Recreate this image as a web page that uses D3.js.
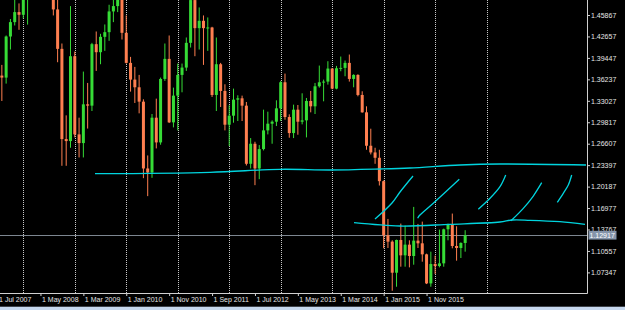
<!DOCTYPE html>
<html>
<head>
<meta charset="utf-8">
<script src="https://cdn.jsdelivr.net/npm/d3@7/dist/d3.min.js"></script>
<style>
  html, body { margin: 0; padding: 0; background: #000; }
  svg { display: block; }
</style>
</head>
<body>
<svg width="625" height="310"></svg>
<script>
// EURUSD monthly bars, first bar = Jul 2007, last = Aug 2016
var opens = [1.3540, 1.3680, 1.3650, 1.4265, 1.4480, 1.4630,
  1.4590, 1.4860, 1.5180, 1.5790, 1.5600, 1.5550, 1.5760, 1.5600, 1.4670, 1.4080, 1.2730, 1.2700,
  1.3970, 1.2800, 1.2670, 1.3250, 1.3230, 1.4150, 1.4030, 1.4260, 1.4330, 1.4640, 1.4720, 1.5000,
  1.4320, 1.3870, 1.3620, 1.3505, 1.3290, 1.2290, 1.2230, 1.3050, 1.2680, 1.3630, 1.3930, 1.2980,
  1.3380, 1.3690, 1.3800, 1.4170, 1.4810, 1.4390, 1.4500, 1.4390, 1.4400, 1.3390, 1.3850, 1.3450,
  1.2945, 1.3080, 1.3320, 1.3340, 1.3230, 1.2360, 1.2660, 1.2290, 1.2580, 1.2860, 1.2960, 1.2990,
  1.3190, 1.3580, 1.3060, 1.2820, 1.3170, 1.2990, 1.3010, 1.3300, 1.3220, 1.3520, 1.3580, 1.3590,
  1.3785, 1.3485, 1.3790, 1.3795, 1.3870, 1.3630, 1.3690, 1.3390, 1.3130, 1.2630, 1.2530, 1.2450,
  1.2100, 1.1290, 1.1195, 1.0730, 1.1220, 1.0990, 1.1150, 1.0980, 1.1210, 1.1170, 1.1005, 1.0570,
  1.0860, 1.0830, 1.0870, 1.1380, 1.1450, 1.1130, 1.1100, 1.1175];
var highs = [1.3852, 1.3840, 1.4280, 1.4527, 1.4967, 1.4760,
  1.4875, 1.5236, 1.5905, 1.6018, 1.5815, 1.5845, 1.6038, 1.5630, 1.4865, 1.4160, 1.3085, 1.4720,
  1.4040, 1.3050, 1.3740, 1.3570, 1.4170, 1.4340, 1.4305, 1.4445, 1.4740, 1.5060, 1.5145, 1.5145,
  1.4580, 1.3960, 1.3810, 1.3690, 1.3325, 1.2485, 1.3105, 1.3335, 1.3650, 1.4160, 1.4280, 1.3500,
  1.3860, 1.3860, 1.4250, 1.4880, 1.4940, 1.4700, 1.4580, 1.4550, 1.4410, 1.4250, 1.3870, 1.3550,
  1.3235, 1.3485, 1.3385, 1.3380, 1.3285, 1.2745, 1.2690, 1.2640, 1.3170, 1.3140, 1.3010, 1.3310,
  1.3600, 1.3710, 1.3100, 1.3245, 1.3240, 1.3415, 1.3345, 1.3450, 1.3570, 1.3830, 1.3620, 1.3895,
  1.3790, 1.3825, 1.3965, 1.3905, 1.3995, 1.3700, 1.3700, 1.3445, 1.3220, 1.2885, 1.2600, 1.2570,
  1.2110, 1.1535, 1.1215, 1.1225, 1.1465, 1.1435, 1.1215, 1.1715, 1.1460, 1.1495, 1.1015, 1.1045,
  1.0985, 1.1375, 1.1390, 1.1465, 1.1615, 1.1425, 1.1185, 1.1366];
var lows = [1.3540, 1.3300, 1.3560, 1.4070, 1.4430, 1.4365,
  1.4535, 1.4443, 1.5130, 1.5470, 1.5285, 1.5305, 1.5550, 1.4580, 1.3880, 1.2330, 1.2330, 1.2600,
  1.2755, 1.2455, 1.2455, 1.2887, 1.3150, 1.3750, 1.3850, 1.4050, 1.4200, 1.4480, 1.4630, 1.4220,
  1.3860, 1.3440, 1.3270, 1.3115, 1.2145, 1.1876, 1.2150, 1.2590, 1.2645, 1.3600, 1.2970, 1.2905,
  1.2860, 1.3430, 1.3750, 1.4100, 1.3970, 1.4070, 1.3840, 1.4050, 1.3360, 1.3150, 1.3210, 1.2860,
  1.2625, 1.2975, 1.3000, 1.3000, 1.2335, 1.2290, 1.2040, 1.2130, 1.2560, 1.2800, 1.2660, 1.2925,
  1.3000, 1.3020, 1.2750, 1.2745, 1.2795, 1.2950, 1.2755, 1.3130, 1.3105, 1.3500, 1.3295, 1.3545,
  1.3475, 1.3475, 1.3745, 1.3670, 1.3590, 1.3505, 1.3370, 1.3125, 1.2570, 1.2500, 1.2360, 1.2035,
  1.1095, 1.1100, 1.0460, 1.0520, 1.0820, 1.0820, 1.0810, 1.0850, 1.1100, 1.0895, 1.0560, 1.0520,
  1.0710, 1.0810, 1.0820, 1.1215, 1.1095, 1.0910, 1.0950, 1.1045];
var closes = [1.3680, 1.3650, 1.4265, 1.4480, 1.4630, 1.4590,
  1.4860, 1.5180, 1.5790, 1.5600, 1.5550, 1.5760, 1.5600, 1.4670, 1.4080, 1.2730, 1.2700, 1.3970,
  1.2800, 1.2670, 1.3250, 1.3230, 1.4150, 1.4030, 1.4260, 1.4330, 1.4640, 1.4720, 1.5000, 1.4320,
  1.3870, 1.3620, 1.3505, 1.3290, 1.2290, 1.2230, 1.3050, 1.2680, 1.3630, 1.3930, 1.2980, 1.3380,
  1.3690, 1.3800, 1.4170, 1.4810, 1.4390, 1.4500, 1.4390, 1.4400, 1.3390, 1.3850, 1.3450, 1.2945,
  1.3080, 1.3320, 1.3340, 1.3230, 1.2360, 1.2660, 1.2290, 1.2580, 1.2860, 1.2960, 1.2990, 1.3190,
  1.3580, 1.3060, 1.2820, 1.3170, 1.2990, 1.3010, 1.3300, 1.3220, 1.3520, 1.3580, 1.3590, 1.3785,
  1.3485, 1.3790, 1.3795, 1.3870, 1.3630, 1.3690, 1.3390, 1.3130, 1.2630, 1.2530, 1.2450, 1.2100,
  1.1290, 1.1195, 1.0730, 1.1220, 1.0990, 1.1150, 1.0980, 1.1210, 1.1170, 1.1005, 1.0570, 1.0860,
  1.0830, 1.0870, 1.1380, 1.1450, 1.1130, 1.1100, 1.1175, 1.1292];

// axis labels (bar index for the dates)
var priceTicks = ['1.45867', '1.42657', '1.39447', '1.36237', '1.33027', '1.29817', '1.26607',
  '1.23397', '1.20187', '1.16977', '1.13767', '1.10557', '1.07347'];
var dateTicks = [0, 10, 20, 30, 40, 50, 60, 70, 80, 90, 100];
var dateLabels = ['1 Jul 2007', '1 May 2008', '1 Mar 2009', '1 Jan 2010', '1 Nov 2010', '1 Sep 2011',
  '1 Jul 2012', '1 May 2013', '1 Mar 2014', '1 Jan 2015', '1 Nov 2015'];
var yearSeparators = [6, 18, 30, 42, 54, 66, 78, 90, 102, 114];
var lastPrice = 1.12917;

// hand drawn lines, [bar index, price]
var longLine = [[22.71, 1.22116], [49.52, 1.22326], [65.84, 1.22775], [77.49, 1.22670], [89.15, 1.22820],
  [96.14, 1.22970], [107.80, 1.23419], [117.12, 1.23569], [137.17, 1.23419]];
var lowLine = [[83.09, 1.14784], [93.81, 1.14290], [105.46, 1.14544], [117.12, 1.14888],
  [119.92, 1.15188], [124.11, 1.15143], [131.10, 1.14934], [136.93, 1.14545]];
var strokes = [
  [[87.98, 1.15337], [91.94, 1.17732], [93.81, 1.19378], [96.84, 1.21772]],
  [[97.93, 1.15442], [98.24, 1.15786], [101.57, 1.17687], [107.63, 1.21278]],
  [[112.06, 1.16789], [114.79, 1.18435], [117.12, 1.20171], [118.45, 1.21922]],
  [[119.68, 1.15083], [122.55, 1.16938], [124.88, 1.18779], [126.84, 1.20770]],
  [[130.48, 1.17836], [131.87, 1.19183], [133.04, 1.20426], [133.83, 1.21922]]
];

var W = 625, H = 310;
var plotR = 587, plotB = 293;
var bullCol = '#36dc36', bearCol = '#ff7f50', lineCol = '#00d4de';
var fontFam = "'Liberation Sans', Arial, sans-serif";

var x = d3.scaleLinear().domain([0, 137]).range([-2.44, -2.44 + 4.29 * 137]);
var y = d3.scaleLinear().domain([1.07347, 1.45867]).range([272.4, 15]);

var bars = opens.map(function(o, i) {
  return {i: i, o: o, h: highs[i], l: lows[i], c: closes[i]};
});

var svg = d3.select('svg');
svg.append('rect').attr('width', W).attr('height', H).attr('fill', '#000');

svg.append('clipPath').attr('id', 'plotclip')
   .append('rect').attr('x', 0).attr('y', 0).attr('width', plotR).attr('height', plotB);

var plot = svg.append('g').attr('clip-path', 'url(#plotclip)');

// year separators
plot.selectAll('line.sep').data(yearSeparators).enter().append('line')
   .attr('class', 'sep')
   .attr('x1', d => Math.round(x(d)) + 0.5)
   .attr('x2', d => Math.round(x(d)) + 0.5)
   .attr('y1', 0).attr('y2', plotB)
   .attr('stroke', '#c8c8c8')
   .attr('stroke-dasharray', '1,1');

// current price line
plot.append('line')
   .attr('x1', 0).attr('x2', plotR)
   .attr('y1', Math.round(y(lastPrice)) + 0.5).attr('y2', Math.round(y(lastPrice)) + 0.5)
   .attr('stroke', '#7d8690');

// candles
var candle = plot.selectAll('g.bar').data(bars).enter().append('g').attr('class', 'bar');
candle.append('line')
   .attr('x1', d => x(d.i)).attr('x2', d => x(d.i))
   .attr('y1', d => y(d.h)).attr('y2', d => y(d.l))
   .attr('stroke', d => d.c >= d.o ? bullCol : bearCol);
candle.append('rect')
   .attr('x', d => x(d.i) - 1.5)
   .attr('width', 3)
   .attr('y', d => y(Math.max(d.o, d.c)))
   .attr('height', d => Math.max(1, Math.abs(y(d.o) - y(d.c))))
   .attr('fill', d => d.c >= d.o ? bullCol : bearCol);

// drawn lines
var line = d3.line().x(d => x(d[0])).y(d => y(d[1])).curve(d3.curveCatmullRom);
plot.selectAll('path.draw').data([longLine, lowLine].concat(strokes)).enter().append('path')
   .attr('class', 'draw')
   .attr('d', line)
   .attr('fill', 'none')
   .attr('stroke', lineCol)
   .attr('stroke-width', 1.3);

// axes
var yAxis = d3.axisRight(y)
   .tickValues(priceTicks.map(Number))
   .tickFormat((d, k) => priceTicks[k])
   .tickSize(3).tickPadding(1);
var gy = svg.append('g').attr('transform', 'translate(' + plotR + ',0)').call(yAxis);

var xAxis = d3.axisBottom(x)
   .tickValues(dateTicks)
   .tickFormat((d, k) => dateLabels[k])
   .tickSize(3).tickPadding(2);
var gx = svg.append('g').attr('transform', 'translate(0,' + plotB + ')').call(xAxis);

[gx, gy].forEach(function(g) {
  g.attr('font-family', fontFam).attr('font-size', 7);
  g.select('.domain').remove();
  g.selectAll('.tick line').attr('stroke', '#d0d0d0');
  g.selectAll('.tick text').attr('fill', '#e6e6e6');
});
gx.selectAll('.tick text').attr('text-anchor', 'start').attr('dx', 1).attr('dy', '0.6em');

// frame
svg.append('line').attr('x1', 0).attr('x2', plotR + 0.5).attr('y1', plotB + 0.5).attr('y2', plotB + 0.5)
   .attr('stroke', '#d0d0d0');
svg.append('line').attr('x1', plotR + 0.5).attr('x2', plotR + 0.5).attr('y1', 0).attr('y2', plotB + 0.5)
   .attr('stroke', '#d0d0d0');

// last price tag
var py = y(lastPrice);
svg.append('rect')
   .attr('x', plotR + 1.5).attr('y', py - 4.4)
   .attr('width', 28).attr('height', 8.8)
   .attr('fill', '#8494aa');
svg.append('text')
   .attr('x', plotR + 2.5).attr('y', py + 2.5)
   .attr('font-family', fontFam).attr('font-size', 7)
   .attr('fill', '#fff')
   .text(lastPrice.toFixed(5));

// window strip at bottom
svg.append('rect').attr('x', 0).attr('y', 306.7).attr('width', W).attr('height', H - 306.7)
   .attr('fill', '#c6d8ee');
</script>
</body>
</html>
